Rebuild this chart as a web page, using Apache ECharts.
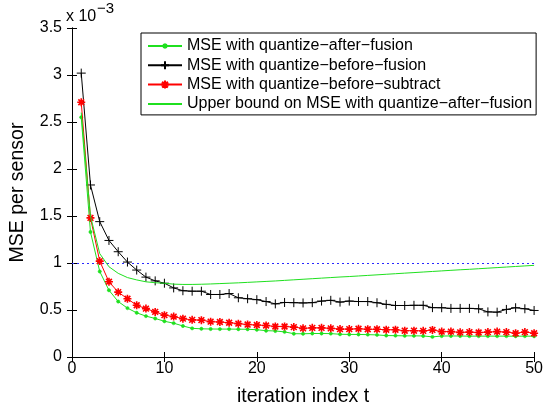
<!DOCTYPE html>
<html><head><meta charset="utf-8">
<script src="https://cdn.jsdelivr.net/npm/echarts@6/dist/echarts.min.js"></script>
<style>html,body{margin:0;padding:0;background:#fff}#c{width:546px;height:412px}</style>
</head><body><div id="c"></div>
<script>
const iterations = [1,2,3,4,5,6,7,8,9,10,11,12,13,14,15,16,17,18,19,20,21,22,23,24,25,26,27,28,29,30,31,32,33,34,35,36,37,38,39,40,41,42,43,44,45,46,47,48,49,50];
const mseAfterFusion = [2.55,1.33,0.91,0.71,0.59,0.52,0.47,0.435,0.41,0.38,0.36,0.33,0.305,0.30,0.298,0.297,0.297,0.296,0.295,0.29,0.28,0.277,0.267,0.248,0.247,0.25,0.25,0.249,0.242,0.24,0.24,0.238,0.235,0.228,0.227,0.225,0.225,0.224,0.214,0.223,0.224,0.223,0.222,0.222,0.222,0.222,0.222,0.221,0.222,0.221];
const mseBeforeFusion = [3.02,1.83,1.44,1.24,1.12,1.01,0.925,0.85,0.81,0.785,0.735,0.705,0.70,0.70,0.665,0.665,0.675,0.63,0.62,0.61,0.59,0.565,0.58,0.578,0.575,0.578,0.595,0.603,0.584,0.595,0.59,0.59,0.577,0.56,0.548,0.548,0.55,0.55,0.525,0.524,0.517,0.517,0.517,0.513,0.48,0.477,0.506,0.524,0.513,0.495];
const mseBeforeSubtract = [2.71,1.48,1.02,0.80,0.69,0.62,0.55,0.515,0.48,0.445,0.43,0.408,0.395,0.392,0.376,0.372,0.365,0.355,0.345,0.34,0.335,0.325,0.325,0.318,0.305,0.31,0.31,0.305,0.297,0.297,0.30,0.295,0.295,0.29,0.29,0.28,0.28,0.278,0.288,0.27,0.27,0.262,0.265,0.26,0.265,0.27,0.265,0.253,0.265,0.253];
const upperBoundAfterFusion = [2.6,1.5,1.1,0.96,0.89,0.845,0.82,0.80,0.79,0.785,0.775,0.772,0.772,0.774,0.777,0.781,0.785,0.789,0.794,0.799,0.804,0.809,0.815,0.821,0.827,0.833,0.839,0.845,0.851,0.856,0.862,0.868,0.874,0.880,0.886,0.892,0.898,0.904,0.910,0.916,0.922,0.928,0.933,0.939,0.945,0.951,0.957,0.963,0.969,0.975];
const referenceLevel = 1;
const seriesNames = ['MSE with quantize\u2212after\u2212fusion','MSE with quantize\u2212before\u2212fusion','MSE with quantize\u2212before\u2212subtract','Upper bound on MSE with quantize\u2212after\u2212fusion'];
const xAxisTitle = 'iteration index t';
const yAxisTitle = 'MSE per sensor';
const exponentBase = 'x 10';
const exponentPower = '\u22123';

const FONT = 'Liberation Sans, Arial, Helvetica, sans-serif';
const pair = arr => iterations.map((t, i) => [t, arr[i]]);
const GREEN = '#1fe01f';
const axisCommon = {
  min: 0, axisLine: {show: true, lineStyle: {color: '#000', width: 1}},
  axisTick: {show: true, inside: true, length: 5, lineStyle: {color: '#000'}},
  splitLine: {show: false}
};
const chart = echarts.init(document.getElementById('c'), null, {renderer: 'canvas'});
chart.setOption({
  animation: false,
  backgroundColor: '#fff',
  grid: {left: 66, right: 10, top: 28, bottom: 52, containLabel: false},
  xAxis: [
    Object.assign({type: 'value', max: 50, interval: 10, position: 'bottom',
      name: xAxisTitle, nameLocation: 'middle', nameGap: 30,
      nameTextStyle: {fontFamily: FONT, fontSize: 19.5, color: '#000'},
      axisLabel: {fontFamily: FONT, fontSize: 16, color: '#000', margin: 4}}, axisCommon),
    Object.assign({type: 'value', max: 50, interval: 10, position: 'top', axisLabel: {show: false}}, axisCommon)
  ],
  yAxis: [
    Object.assign({type: 'value', max: 3.5, interval: 0.5, position: 'left',
      name: yAxisTitle, nameLocation: 'middle', nameGap: 44, nameRotate: 90,
      nameTextStyle: {fontFamily: FONT, fontSize: 19.5, color: '#000'},
      axisLabel: {fontFamily: FONT, fontSize: 16, color: '#000', margin: 10}}, axisCommon),
    Object.assign({type: 'value', max: 3.5, interval: 0.5, position: 'right', axisLabel: {show: false}}, axisCommon)
  ],
  legend: {
    left: 141, top: 33, orient: 'vertical',
    backgroundColor: '#fff', borderColor: '#000', borderWidth: 1,
    padding: [5, 4, 3, 6], itemGap: 3.3, itemWidth: 34, itemHeight: 10,
    textStyle: {fontFamily: FONT, fontSize: 16, color: '#000'},
    data: seriesNames
  },
  graphic: [
    {type: 'text', left: 66, top: 9, style: {text: exponentBase, font: '16px ' + FONT, fill: '#000'}},
    {type: 'text', left: 97, top: 1, style: {text: exponentPower, font: '15px ' + FONT, fill: '#000'}}
  ],
  series: [
    {name: seriesNames[0], type: 'line', data: pair(mseAfterFusion), z: 4,
      symbol: 'path://M-4,-4M4,4M-1.7,0L-1.2,-1.2L0,-1.7L1.2,-1.2L1.7,0L1.2,1.2L0,1.7L-1.2,1.2Z', symbolSize: 8,
      lineStyle: {color: GREEN, width: 1}, itemStyle: {color: GREEN, borderColor: GREEN, borderWidth: 0.5},
      emphasis: {disabled: true}},
    {name: seriesNames[1], type: 'line', data: pair(mseBeforeFusion), z: 3,
      symbol: 'path://M0,-5L0,5M-5,0L5,0', symbolSize: 9,
      lineStyle: {color: '#000', width: 1}, itemStyle: {color: '#000', borderColor: '#000', borderWidth: 1},
      emphasis: {disabled: true}},
    {name: seriesNames[2], type: 'line', data: pair(mseBeforeSubtract), z: 5,
      symbol: 'path://M0,-5L0,5M-5,0L5,0M-3.6,-3.6L3.6,3.6M-3.6,3.6L3.6,-3.6', symbolSize: 8,
      lineStyle: {color: '#ff0000', width: 1}, itemStyle: {color: '#ff0000', borderColor: '#ff0000', borderWidth: 1.6},
      emphasis: {disabled: true}},
    {name: seriesNames[3], type: 'line', data: pair(upperBoundAfterFusion), z: 6,
      symbol: 'path://M-1,-1M1,1', showSymbol: false,
      lineStyle: {color: GREEN, width: 1}, itemStyle: {color: 'none', borderWidth: 0},
      emphasis: {disabled: true},
      markLine: {silent: true, symbol: 'none', label: {show: false}, z: 2,
        lineStyle: {color: '#2a2aff', width: 1.2, type: [2, 3]},
        data: [{yAxis: referenceLevel}]}}
  ]
});
</script></body></html>
